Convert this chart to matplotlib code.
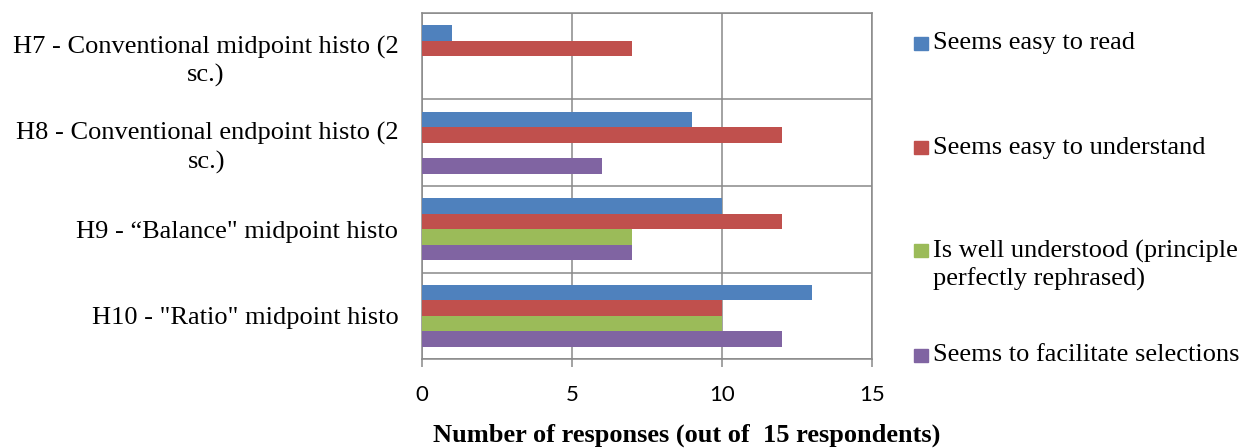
import matplotlib.pyplot as plt
import numpy as np
from matplotlib.patches import Rectangle

# data
categories = ['H7 - Conventional midpoint histo (2\nsc.)',
              'H8 - Conventional endpoint histo (2\nsc.)',
              'H9 - \u201cBalance" midpoint histo',
              'H10 - "Ratio" midpoint histo']
series = ['Seems easy to read',
          'Seems easy to understand',
          'Is well understood (principle\nperfectly rephrased)',
          'Seems to facilitate selections']
easy_read = [1, 9, 10, 13]
easy_understand = [7, 12, 12, 10]
well_understood = [0, 0, 7, 10]
facilitate = [0, 6, 7, 12]
values = [easy_read, easy_understand, well_understood, facilitate]
colors = ['#4F81BD', '#C0504D', '#9BBB59', '#8064A2']
xticks = [0, 5, 10, 15]

serif = 'Liberation Serif'
gridc = '#898989'

fig = plt.figure(figsize=(12.5, 4.48), dpi=100)
ax = fig.add_axes([422/1250, 1-359/448, 450/1250, 346/448])

y = np.arange(len(categories))
h = 0.18
for i, vals in enumerate(values):
    ax.barh(y + (i - 1.5)*h, vals, height=h, color=colors[i], zorder=3)

ax.set_xlim(0, 15)
ax.set_ylim(len(categories) - 0.5, -0.5)
ax.set_xticks(xticks)
ax.set_xticklabels([str(t) for t in xticks], family='Lato', fontsize=16)
ax.set_yticks(y)
ax.set_yticklabels(categories, family=serif, fontsize=19)
for t in ax.get_yticklabels():
    t.set_multialignment('center')
    t.set_linespacing(1.3)
ax.set_yticks(np.arange(len(categories) + 1) - 0.5, minor=True)
ax.tick_params(axis='y', which='both', length=0, pad=17)
ax.tick_params(axis='x', length=6, width=1.1, color=gridc, pad=13)
ax.grid(axis='x', color=gridc, linewidth=1.1, zorder=1)
ax.grid(axis='y', which='minor', color=gridc, linewidth=1.1, zorder=1)
for s in ax.spines.values():
    s.set_color(gridc)
    s.set_linewidth(1.1)

# axis title sits a bit right of the plot centre, as in the source
fig.text(687/1250, 1-442/448, 'Number of responses (out of  15 respondents)',
         family=serif, fontsize=19, fontweight='bold', ha='center', va='baseline')

# legend drawn by hand to keep Excel-like spacing
leg_y = [43.5, 148, 251, 355]
for i, lab in enumerate(series):
    yc = 1 - leg_y[i]/448
    fig.add_artist(Rectangle((914/1250, yc - 6.5/448), 14/1250, 13/448,
                             transform=fig.transFigure, color=colors[i]))
    fig.text(933/1250, yc + 11/448, lab, family=serif, fontsize=19,
             va='top', ha='left', linespacing=1.25)

fig.savefig('out.png', dpi=100)
